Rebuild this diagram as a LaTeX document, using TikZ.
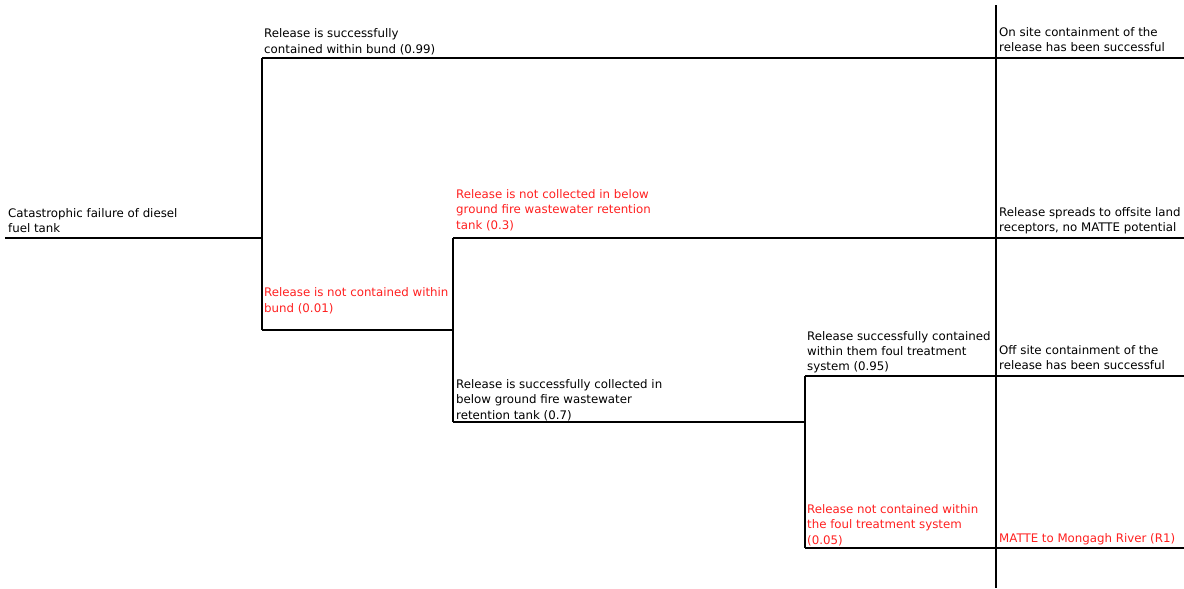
\documentclass[tikz,border=0pt]{standalone}
\usepackage{fontspec}
\setmainfont{DejaVu Sans}
\usepackage{xcolor}
\usepackage{tikz}
\usetikzlibrary{positioning}
\definecolor{evred}{RGB}{255,32,32}
\tikzset{
  elbl/.style={align=left, inner sep=0pt, font=\fontsize{11.8}{15.3}\selectfont},
  rlbl/.style={elbl, text=evred},
  eline/.style={line width=1.6pt},
  eaxis/.style={line width=1.1pt}
}

\begin{document}
\begin{tikzpicture}[x=1pt,y=-1pt]
\useasboundingbox (0,0) rectangle (1184,589);
% branch points
\coordinate (st) at (5,238);
\coordinate (b1) at (262,238);
\coordinate (b1u) at (262,58);
\coordinate (b1d) at (262,330);
\coordinate (b2) at (453,330);
\coordinate (b2u) at (453,238);
\coordinate (b2d) at (453,422);
\coordinate (b3) at (805,422);
\coordinate (b3u) at (805,376);
\coordinate (b3d) at (805,548);
% ends and outcome column
\coordinate (e1) at (1184,58);
\coordinate (e2) at (1184,238);
\coordinate (e3) at (1184,376);
\coordinate (e4) at (1184,548);
\coordinate (c1) at (996,58);
\coordinate (c2) at (996,238);
\coordinate (c3) at (996,376);
\coordinate (c4) at (996,548);
\coordinate (axt) at (996,5);
\coordinate (axb) at (996,588);
% tree
\draw[eline] (st)--(b1);
\draw[eline] (b1u)--(b1d);
\draw[eline] (b1u)--(e1);
\draw[eline] (b1d)--(b2);
\draw[eline] (b2u)--(b2d);
\draw[eline] (b2u)--(e2);
\draw[eline] (b2d)--(b3);
\draw[eline] (b3u)--(b3d);
\draw[eline] (b3u)--(e3);
\draw[eline] (b3d)--(e4);
\draw[eaxis] (axt)--(axb);
% labels
\node[elbl, above right=5pt and 3pt of st] (t0) {Catastrophic failure of diesel\\fuel tank};
\node[elbl, above right=3pt and 2pt of b1u] (t1) {Release is successfully\\contained within bund (0.99)};
\node[rlbl, above right=16pt and 2pt of b1d] (t2) {Release is not contained within\\bund (0.01)};
\node[rlbl, above right=7pt and 3pt of b2u] (t3) {Release is not collected in below\\ground fire wastewater retention\\tank (0.3)};
\node[elbl, above right=1pt and 3pt of b2d] (t4) {Release is successfully collected in\\below ground fire wastewater\\retention tank (0.7)};
\node[elbl, above right=2.5pt and 2pt of b3u] (t5) {Release successfully contained\\within them foul treatment\\system (0.95)};
\node[rlbl, above right=2pt and 2pt of b3d] (t6) {Release not contained within\\the foul treatment system\\(0.05)};
\node[elbl, above right=6pt and 3pt of c1] (o1) {On site containment of the\\release has been successful};
\node[elbl, above right=4pt and 3pt of c2] (o2) {Release spreads to offsite land\\receptors, no MATTE potential};
\node[elbl, above right=6pt and 3pt of c3] (o3) {Off site containment of the\\release has been successful};
\node[rlbl, above right=3pt and 3pt of c4] (o4) {MATTE to Mongagh River (R1)};
\end{tikzpicture}
\end{document}
